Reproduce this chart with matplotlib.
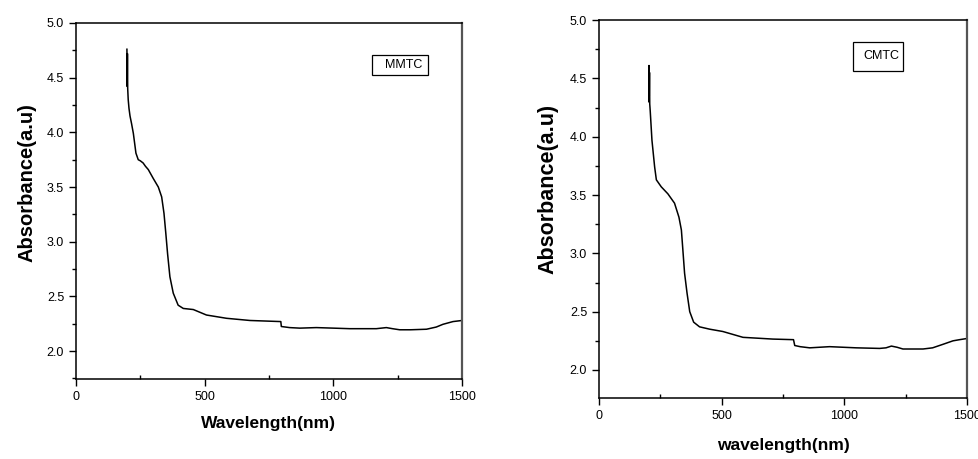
import matplotlib
matplotlib.use("Agg")
import matplotlib.pyplot as plt
from matplotlib.ticker import MultipleLocator, FormatStrFormatter
from matplotlib.patches import Rectangle

plt.rcParams["font.family"] = ["Liberation Sans", "DejaVu Sans"]

# UV-Vis-NIR absorbance, MMTC sample
mmtc_wl = [198, 199, 200, 201, 203, 206, 210, 216, 223, 233, 242, 250, 261, 270,
           281, 300, 320, 333, 342, 349, 356, 365, 378, 397, 417, 456, 507, 585,
           676, 796, 798, 830, 870, 934, 1000, 1064, 1120, 1167, 1206, 1230, 1258,
           1300, 1362, 1400, 1426, 1465, 1500]
mmtc_abs = [4.76, 4.42, 4.72, 4.40, 4.30, 4.22, 4.15, 4.08, 3.99, 3.81, 3.75, 3.74,
            3.72, 3.69, 3.66, 3.58, 3.50, 3.41, 3.26, 3.08, 2.89, 2.68, 2.53, 2.42,
            2.39, 2.38, 2.33, 2.30, 2.28, 2.27, 2.225, 2.215, 2.21, 2.215, 2.21,
            2.205, 2.205, 2.205, 2.215, 2.205, 2.195, 2.195, 2.20, 2.22, 2.245,
            2.27, 2.28]

# UV-Vis-NIR absorbance, CMTC sample
cmtc_wl = [203, 204, 205, 206, 207, 209, 216, 227, 234, 254, 281, 308, 326, 336,
           342, 349, 359, 370, 386, 410, 451, 505, 587, 709, 793, 798, 820, 859,
           940, 1049, 1144, 1170, 1192, 1215, 1239, 1321, 1360, 1402, 1443, 1470,
           1500]
cmtc_abs = [4.30, 4.61, 4.35, 4.55, 4.28, 4.22, 3.97, 3.74, 3.63, 3.57, 3.51, 3.43,
            3.31, 3.20, 3.03, 2.83, 2.66, 2.50, 2.41, 2.37, 2.35, 2.33, 2.28, 2.265,
            2.26, 2.21, 2.20, 2.19, 2.20, 2.19, 2.185, 2.19, 2.205, 2.195, 2.18,
            2.18, 2.19, 2.22, 2.25, 2.26, 2.27]

panels = [
    dict(wl=mmtc_wl, ab=mmtc_abs, name="MMTC", xlabel="Wavelength(nm)",
         rect=[0.0776, 0.1743, 0.3943, 0.7756], ylim=(1.745, 5.0),
         box=(0.767, 0.855, 0.145, 0.056), ylab_x=-0.101, xlab_y=-0.104,
         xlab_size=12.5, ylab_size=14.5),
    dict(wl=cmtc_wl, ab=cmtc_abs, name="CMTC", xlabel="wavelength(nm)",
         rect=[0.6118, 0.1329, 0.3759, 0.8235], ylim=(1.76, 5.0),
         box=(0.69, 0.865, 0.136, 0.077), ylab_x=-0.111, xlab_y=-0.106,
         xlab_size=12.5, ylab_size=15.5),
]

fig = plt.figure(figsize=(9.79, 4.59), dpi=100)

for p in panels:
    ax = fig.add_axes(p["rect"])
    ax.plot(p["wl"], p["ab"], color="black", linewidth=1.1)
    ax.set_xlim(0, 1500)
    ax.set_ylim(*p["ylim"])
    ax.xaxis.set_major_locator(MultipleLocator(500))
    ax.xaxis.set_minor_locator(MultipleLocator(250))
    ax.yaxis.set_major_locator(MultipleLocator(0.5))
    ax.yaxis.set_minor_locator(MultipleLocator(0.25))
    ax.yaxis.set_major_formatter(FormatStrFormatter("%.1f"))
    ax.tick_params(axis="both", which="major", direction="out", length=5,
                   width=1, labelsize=9)
    ax.tick_params(axis="x", which="minor", direction="in", length=3, width=1)
    ax.tick_params(axis="y", which="minor", direction="out", length=3, width=1)
    for s in ax.spines.values():
        s.set_linewidth(1.1)
    ax.spines["right"].set_color("#555555")
    ax.spines["right"].set_linewidth(1.6)

    ax.set_xlabel(p["xlabel"], fontsize=p["xlab_size"], fontweight="bold")
    ax.set_ylabel("Absorbance(a.u)", fontsize=p["ylab_size"], fontweight="bold")
    ax.xaxis.set_label_coords(0.5, p["xlab_y"])
    ax.yaxis.set_label_coords(p["ylab_x"], 0.553)

    bx, by, bw, bh = p["box"]
    ax.add_patch(Rectangle((bx, by), bw, bh, transform=ax.transAxes,
                           fill=False, edgecolor="black", linewidth=0.9))
    ax.text(bx + bw / 2 + 0.01, by + bh / 2, p["name"], transform=ax.transAxes,
            ha="center", va="center", fontsize=9)

fig.savefig("out.png", dpi=100)
